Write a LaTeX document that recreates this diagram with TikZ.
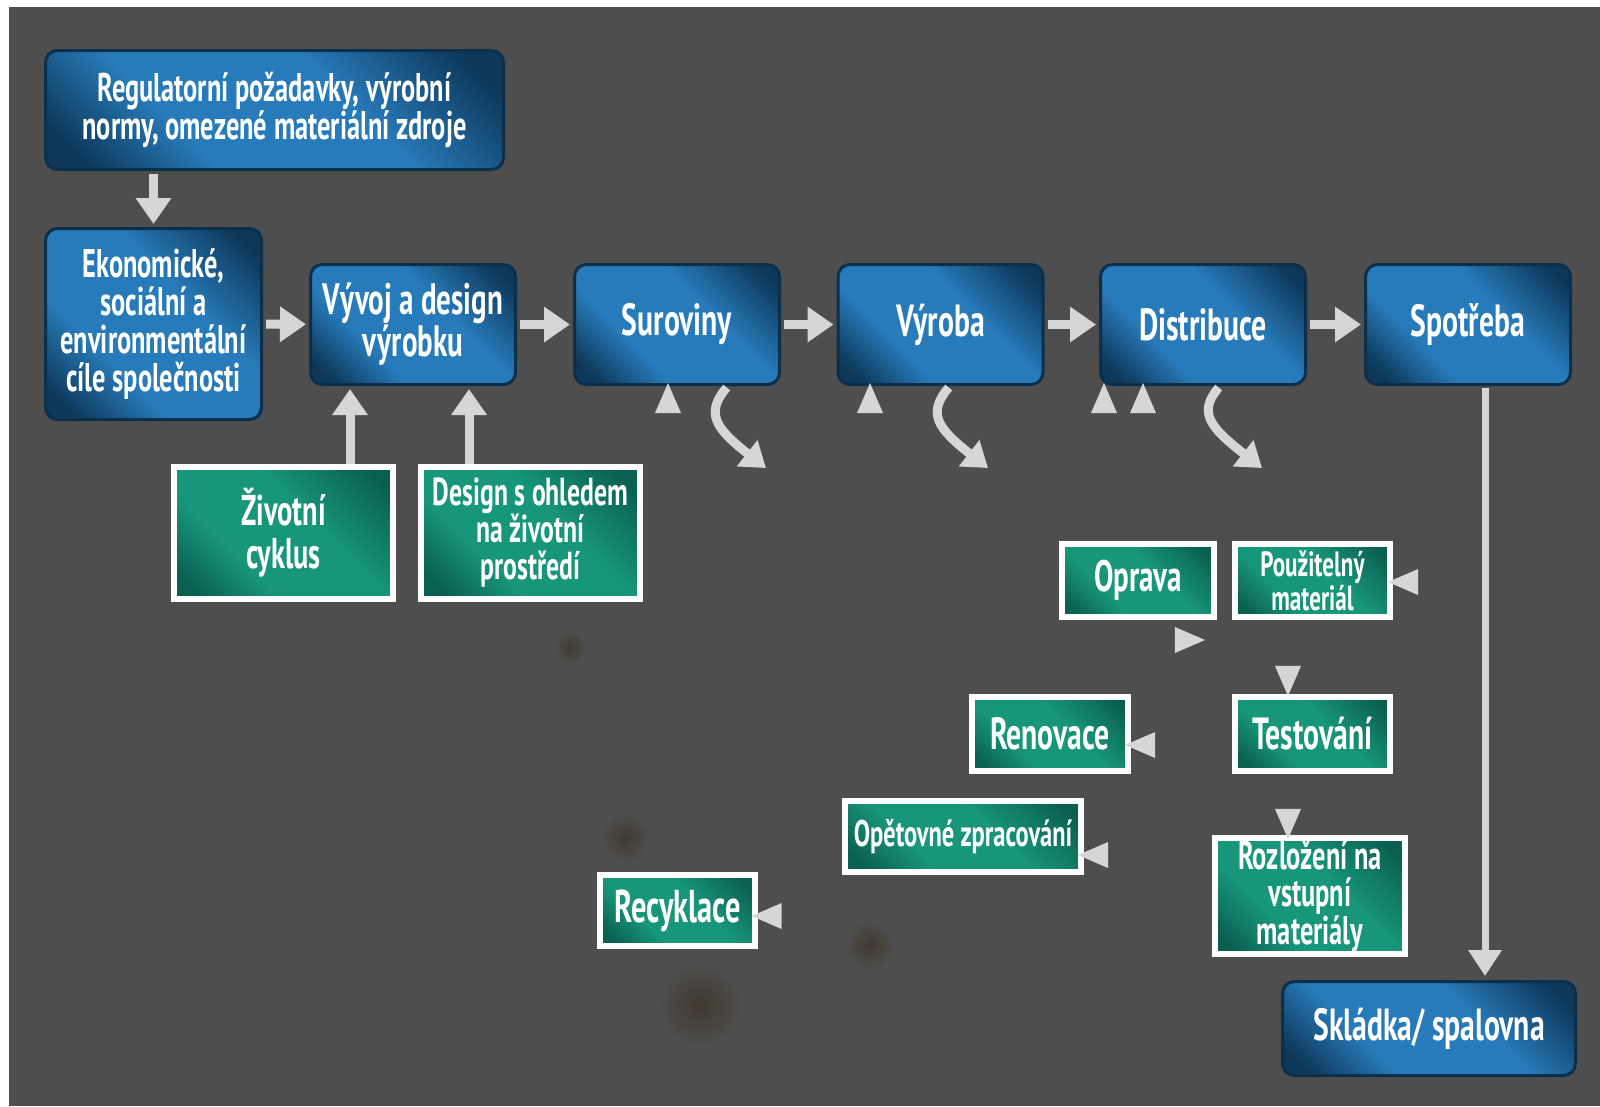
\documentclass[tikz,border=0pt]{standalone}
\usepackage{fontspec}
\setmainfont{PT Sans}[FakeStretch=0.66]
\usetikzlibrary{arrows.meta,shapes.geometric}
\definecolor{bgdark}{RGB}{78,78,78}
\definecolor{stain}{RGB}{64,57,46}
\definecolor{bluelight}{RGB}{40,123,186}
\definecolor{bluedark}{RGB}{13,56,90}
\definecolor{blueedge}{RGB}{12,48,76}
\definecolor{greenlight}{RGB}{24,150,122}
\definecolor{greendark}{RGB}{10,96,80}
\definecolor{arrowgray}{RGB}{214,214,214}
\pgfdeclareverticalshading{bluegrad}{100bp}{color(0bp)=(bluedark); color(20bp)=(bluedark);
  color(36bp)=(bluelight); color(60bp)=(bluelight); color(80bp)=(bluedark); color(100bp)=(bluedark)}
\pgfdeclareverticalshading{greengrad}{100bp}{color(0bp)=(greendark); color(20bp)=(greendark);
  color(36bp)=(greenlight); color(58bp)=(greenlight); color(80bp)=(greendark); color(100bp)=(greendark)}
\tikzset{
  txt/.style 2 args={font=\bfseries\fontsize{#1}{#2}\selectfont},
  bluebox/.style={draw=blueedge, line width=3pt, rounded corners=12pt,
    shading=bluegrad, shading angle=-45, text=white, align=center, inner sep=0pt,
    txt={45}{46}},
  greenbox/.style={draw=white, line width=6pt,
    shading=greengrad, shading angle=-45, text=white, align=center, inner sep=0pt,
    txt={45}{46}},
  flow/.style={draw=arrowgray, line width=9pt, shorten <=3pt, shorten >=3pt,
    -{Triangle[length=26pt,width=34pt]}},
  curl/.style={draw=arrowgray, line width=9pt, shorten <=2pt,
    -{Triangle[length=24pt,width=32pt]}},
  longflow/.style={draw=arrowgray, line width=7pt, shorten <=2pt, shorten >=4pt,
    -{Triangle[length=26pt,width=32pt]}},
  arrowtri/.style={fill=arrowgray, shape=isosceles triangle, isosceles triangle stretches,
    inner sep=0pt, minimum width=26pt, minimum height=30pt}
}
\begin{document}
\begin{tikzpicture}[x=1pt,y=-1pt]
\useasboundingbox (0,0) rectangle (1600,1106);
\fill[white] (0,0) rectangle (1600,1106);
\fill[bgdark] (9,7) rectangle (1600,1106);
\shade[inner color=stain, outer color=bgdark] (700,1005) circle (42);
\shade[inner color=stain, outer color=bgdark] (870,945) circle (24);
\shade[inner color=stain, outer color=bgdark] (625,838) circle (24);
\shade[inner color=stain, outer color=bgdark] (570,648) circle (16);

\node[bluebox, txt={40}{37}, minimum width=458pt, minimum height=119pt] (reg) at (274.5,110)
  {Regulatorní požadavky, výrobní\\normy, omezené materiální zdroje};
\node[bluebox, txt={40}{38}, minimum width=216pt, minimum height=191pt] (eko) at (153.5,324)
  {Ekonomické,\\sociální a\\environmentální\\cíle společnosti};
\node[bluebox, txt={44}{41}, minimum width=205pt, minimum height=120pt] (vyvoj) at (413,324.5)
  {Vývoj a design\\výrobku};
\node[bluebox, minimum width=205pt, minimum height=120pt] (sur) at (677,324.5) {Suroviny};
\node[bluebox, minimum width=205pt, minimum height=120pt] (vyr) at (940.5,324.5) {Výroba};
\node[bluebox, minimum width=205pt, minimum height=120pt] (dist) at (1203,324.5) {Distribuce};
\node[bluebox, minimum width=205pt, minimum height=120pt] (spot) at (1468,324.5) {Spotřeba};
\node[bluebox, minimum width=293pt, minimum height=94pt] (skl) at (1429,1028.5) {Skládka/ spalovna};

\node[greenbox, txt={43}{43}, minimum width=219pt, minimum height=132pt] (zivot) at (283.5,533)
  {Životní\\cyklus};
\node[greenbox, txt={39}{37}, minimum width=219pt, minimum height=132pt] (desg) at (530.5,533)
  {Design s ohledem\\na životní\\prostředí};
\node[greenbox, txt={44}{44}, minimum width=152pt, minimum height=73pt] (oprava) at (1138,580.5) {Oprava};
\node[greenbox, txt={35}{34}, minimum width=155pt, minimum height=73pt] (pouz) at (1312.5,580.5)
  {Použitelný\\materiál};
\node[greenbox, minimum width=155pt, minimum height=74pt] (test) at (1312.5,734) {Testování};
\node[greenbox, minimum width=156pt, minimum height=74pt] (renov) at (1050,734) {Renovace};
\node[greenbox, txt={37}{37}, minimum width=236pt, minimum height=71pt] (opet) at (963,836.5)
  {Opětovné zpracování};
\node[greenbox, txt={40}{37.5}, minimum width=190pt, minimum height=116pt] (rozl) at (1310,896)
  {Rozložení na\\vstupní\\materiály};
\node[greenbox, txt={46}{46}, minimum width=155pt, minimum height=71pt] (recy) at (677.5,910.5) {Recyklace};

\draw[flow] (reg.south -| eko.north) -- (eko.north);
\draw[flow] (eko) -- (vyvoj);
\draw[flow] (vyvoj) -- (sur);
\draw[flow] (sur) -- (vyr);
\draw[flow] (vyr) -- (dist);
\draw[flow] (dist) -- (spot);
\coordinate (vin1) at ([xshift=41pt]vyvoj.south west);
\coordinate (vin2) at ([xshift=-48pt]vyvoj.south east);
\draw[flow, shorten <=0pt] (vin1 |- zivot.north) -- (vin1);
\draw[flow, shorten <=0pt] (vin2 |- desg.north) -- (vin2);
\coordinate (sout) at ([xshift=17pt]spot.south);
\draw[longflow] (sout) -- (sout |- skl.north);

\draw[curl] ([xshift=51pt]sur.south) .. controls +(-23,27) and +(-51,-40) .. +(38,82);
\draw[curl] ([xshift=9.5pt]vyr.south) .. controls +(-23,27) and +(-51,-40) .. +(38,82);
\draw[curl] ([xshift=17pt]dist.south) .. controls +(-23,27) and +(-51,-40) .. +(42,82);

\node[arrowtri, shape border rotate=90] (insur) at (668,404.5) {};
\node[arrowtri, shape border rotate=90] (invyr) at (870,404.5) {};
\node[arrowtri, shape border rotate=90] (indista) at (1104,404.5) {};
\node[arrowtri, shape border rotate=90] (indistb) at (1143,404.5) {};
\node[arrowtri, shape border rotate=180] (topouz) at (1409.5,582) {};
\node[arrowtri, shape border rotate=0] (fromoprava) at (1183.5,640) {};
\node[arrowtri, shape border rotate=270] (totest) at (1288,674.5) {};
\node[arrowtri, shape border rotate=180] (torenov) at (1146.5,745) {};
\node[arrowtri, shape border rotate=270] (torozl) at (1288,817.5) {};
\node[arrowtri, shape border rotate=180] (toopet) at (1099.5,855) {};
\node[arrowtri, shape border rotate=180] (torecy) at (773,916) {};
\end{tikzpicture}
\end{document}
